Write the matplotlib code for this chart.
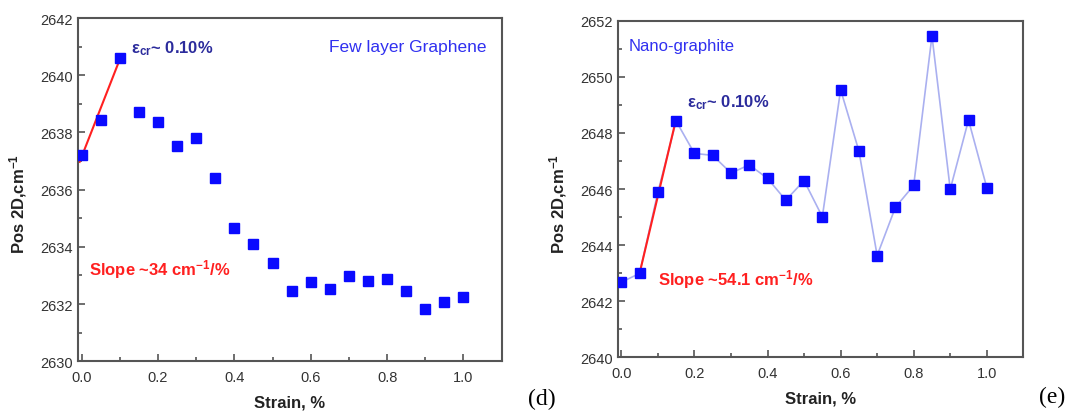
import numpy as np
import matplotlib.pyplot as plt
from matplotlib.ticker import MultipleLocator

plt.rcParams['font.family'] = ['Liberation Sans', 'DejaVu Sans']
plt.rcParams['mathtext.fontset'] = 'custom'
plt.rcParams['mathtext.rm'] = 'Liberation Sans'
plt.rcParams['mathtext.it'] = 'Liberation Sans:italic'
plt.rcParams['mathtext.bf'] = 'Liberation Sans:bold'

strain = [0.0, 0.05, 0.10, 0.15, 0.20, 0.25, 0.30, 0.35, 0.40, 0.45, 0.50,
          0.55, 0.60, 0.65, 0.70, 0.75, 0.80, 0.85, 0.90, 0.95, 1.00]

# (d) few layer graphene
pos_d = [2637.2, 2638.42, 2640.61, 2638.70, 2638.35, 2637.53, 2637.82, 2636.41,
         2634.65, 2634.10, 2633.44, 2632.44, 2632.78, 2632.51, 2632.98, 2632.80,
         2632.88, 2632.44, 2631.81, 2632.08, 2632.24]
fit_d_x = [-0.005, 0.10]
fit_d_y = [2636.97, 2640.55]

# (e) nano-graphite
pos_e = [2642.68, 2642.99, 2645.89, 2648.42, 2647.27, 2647.20, 2646.57, 2646.86,
         2646.38, 2645.60, 2646.30, 2645.01, 2649.54, 2647.36, 2643.63, 2645.35,
         2646.13, 2651.46, 2645.99, 2648.46, 2646.05]
fit_e_x = [0.05, 0.15]
fit_e_y = [2643.0, 2648.5]

fig = plt.figure(figsize=(10.72, 4.14), dpi=100)
ax1 = fig.add_axes([0.0725, 0.125, 0.3955, 0.829])
ax2 = fig.add_axes([0.5762, 0.1345, 0.3784, 0.813])

sq_col = '#0a0aff'
frame = '#555555'


def style(ax, ylo, yhi):
    ax.set_xlim(-0.01, 1.1)
    ax.set_ylim(ylo, yhi)
    ax.xaxis.set_major_locator(MultipleLocator(0.2))
    ax.xaxis.set_minor_locator(MultipleLocator(0.1))
    ax.yaxis.set_major_locator(MultipleLocator(2))
    ax.yaxis.set_minor_locator(MultipleLocator(1))
    ax.tick_params(which='both', direction='in', top=False, right=False,
                   color=frame, labelcolor='#333333', labelsize=10.5, width=1.2)
    ax.tick_params(which='major', length=5)
    ax.tick_params(which='minor', length=3)
    ax.tick_params(axis='x', pad=6)
    ax.xaxis.set_major_formatter(plt.FuncFormatter(lambda v, p: '%.1f' % v))
    for s in ax.spines.values():
        s.set_color(frame)
        s.set_linewidth(1.5)
    ax.set_xlabel('Strain, %', fontsize=12, fontweight='bold', color='#222222', labelpad=8)
    ax.set_ylabel(r'Pos 2D,cm$^{\mathbf{-1}}$', fontsize=12, fontweight='bold',
                  color='#222222', labelpad=8, y=0.46)


style(ax1, 2630, 2642)
ax1.plot(strain, pos_d, 's', color=sq_col, markersize=7, zorder=3)
ax1.plot(fit_d_x, fit_d_y, color='#ff2020', lw=1.5, zorder=2)
ax1.text(0.13, 2640.8, r'$\mathbf{\varepsilon_{cr}}$~ 0.10%', color='#2b2b9c',
         fontsize=12, fontweight='bold')
ax1.text(1.06, 2641.0, 'Few layer Graphene', color='#3030f0', fontsize=12.5,
         ha='right', va='center')
ax1.text(0.02, 2633.05, r'Slope ~34 cm$^{\mathbf{-1}}$/%', color='#ff2020',
         fontsize=12, fontweight='bold')

style(ax2, 2640, 2652)
ax2.plot(strain, pos_e, '-', color='#aab0f0', lw=1.2, zorder=1)
ax2.plot(strain, pos_e, 's', color=sq_col, markersize=7, zorder=3)
ax2.plot(fit_e_x, fit_e_y, color='#ff2020', lw=1.5, zorder=2)
ax2.text(0.18, 2648.95, r'$\mathbf{\varepsilon_{cr}}$~ 0.10%', color='#2b2b9c',
         fontsize=12, fontweight='bold')
ax2.text(0.02, 2651.1, 'Nano-graphite', color='#3030f0', fontsize=12, va='center')
ax2.text(0.10, 2642.6, r'Slope ~54.1 cm$^{\mathbf{-1}}$/%', color='#ff2020',
         fontsize=12, fontweight='bold')

fig.text(0.4925, 0.035, '(d)', family='Liberation Serif', fontsize=17, va='center')
fig.text(0.969, 0.04, '(e)', family='Liberation Serif', fontsize=17, va='center')

fig.savefig('out.png', dpi=100)
